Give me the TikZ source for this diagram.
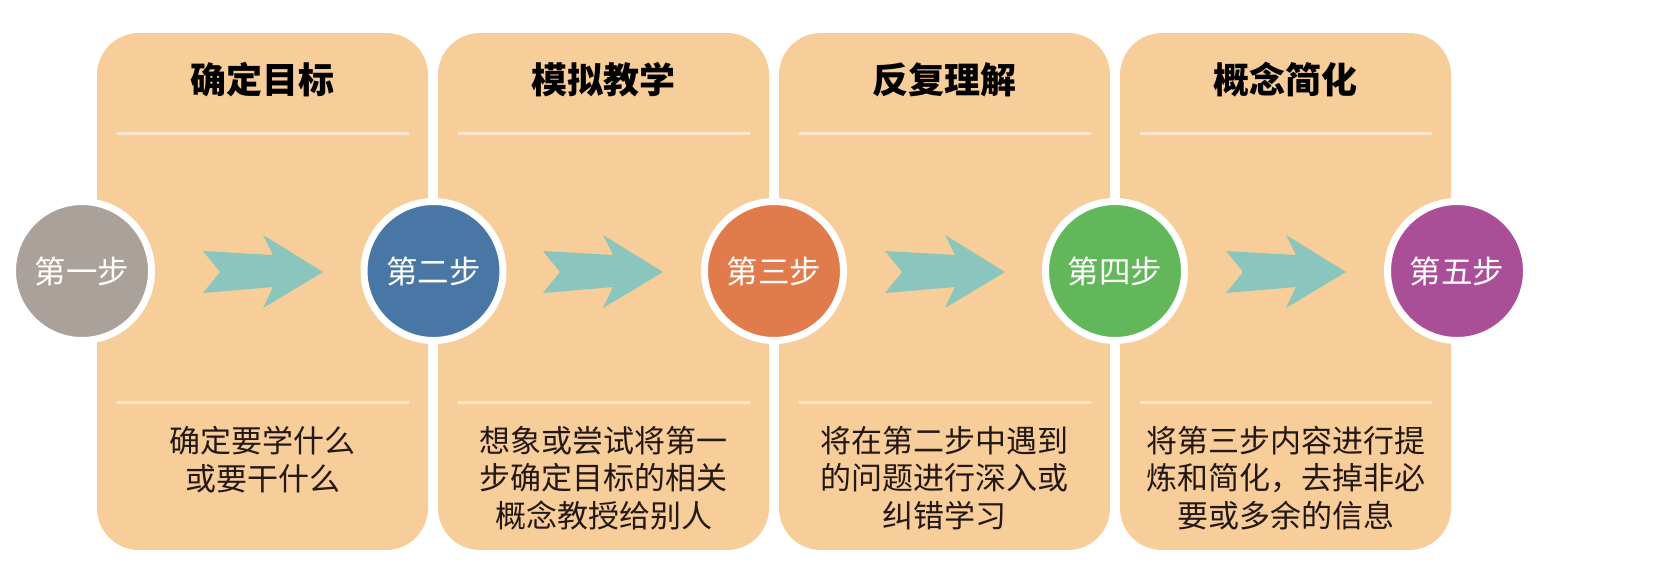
\documentclass[tikz,border=0pt]{standalone}
\usepackage{fontspec}
\newfontfamily\cjk{Noto Sans CJK SC}
\definecolor{panelfill}{HTML}{F7CD99}
\definecolor{sepcol}{HTML}{FCE6CC}
\definecolor{arrowcol}{HTML}{8AC6BD}
\definecolor{bodytext}{HTML}{231815}
\definecolor{cgrey}{HTML}{ABA19B}
\definecolor{cblue}{HTML}{4877A6}
\definecolor{corange}{HTML}{E27B4C}
\definecolor{cgreen}{HTML}{63B75B}
\definecolor{cpurple}{HTML}{AB4E98}
\begin{document}
\begin{tikzpicture}[x=1pt,y=-1pt,
  panel/.style={rectangle, fill=panelfill, rounded corners=42pt, draw=none,
    minimum width=331pt, minimum height=517pt, inner sep=0pt, outer sep=0pt},
  sepline/.style={draw=sepcol, line width=3pt},
  stepcircle/.style={circle, draw=white, line width=7pt, minimum size=139pt,
    inner sep=0pt, text=white, font=\cjk\fontsize{31.5}{31.5}\selectfont},
  titletext/.style={font=\cjk\bfseries\fontsize{36}{36}\selectfont, text=black, inner sep=0pt},
  bodytextstyle/.style={font=\cjk\fontsize{31}{37.5}\selectfont, align=center,
    anchor=north, inner sep=0pt, text=bodytext},
  arrowfill/.style={fill=arrowcol}]
\useasboundingbox (0,0) rectangle (1667,574);
% panels
\node[panel] (p1) at (262.5,291.5) {};
\node[panel] (p2) at (603.5,291.5) {};
\node[panel] (p3) at (944.5,291.5) {};
\node[panel] (p4) at (1285.5,291.5) {};
% separator lines
\foreach \c in {262.5,603.5,944.5,1285.5}{
  \draw[sepline] ({\c-146},133) -- ({\c+146},133);
  \draw[sepline] ({\c-146},402) -- ({\c+146},402);
}
% titles
\node[titletext] (t1) at (262.5,80) {确定目标};
\node[titletext] (t2) at (603.5,80) {模拟教学};
\node[titletext] (t3) at (944.5,80) {反复理解};
\node[titletext] (t4) at (1285.5,80) {概念简化};
% body texts
\node[bodytextstyle] (b1) at (262.5,426) {确定要学什么\\或要干什么};
\node[bodytextstyle] (b2) at (603.5,426) {想象或尝试将第一\\步确定目标的相关\\概念教授给别人};
\node[bodytextstyle] (b3) at (944.5,426) {将在第二步中遇到\\的问题进行深入或\\纠错学习};
\node[bodytextstyle] (b4) at (1285.5,426) {将第三步内容进行提\\炼和简化，去掉非必\\要或多余的信息};
% arrows
\foreach \c in {263,603,945,1286}{
  \fill[arrowfill] ({\c-60},251) -- ({\c+10},255) -- ({\c},235) -- ({\c+60},272)
    -- ({\c},308) -- ({\c+10},287) -- ({\c-60},293) -- ({\c-43},272) -- cycle;
}
% step circles
\node[stepcircle, fill=cgrey]   (s1) at (82,271)    {第一步};
\node[stepcircle, fill=cblue]   (s2) at (433.5,271) {第二步};
\node[stepcircle, fill=corange] (s3) at (774,271)   {第三步};
\node[stepcircle, fill=cgreen]  (s4) at (1115,271)  {第四步};
\node[stepcircle, fill=cpurple] (s5) at (1457,271)  {第五步};
\end{tikzpicture}
\end{document}
